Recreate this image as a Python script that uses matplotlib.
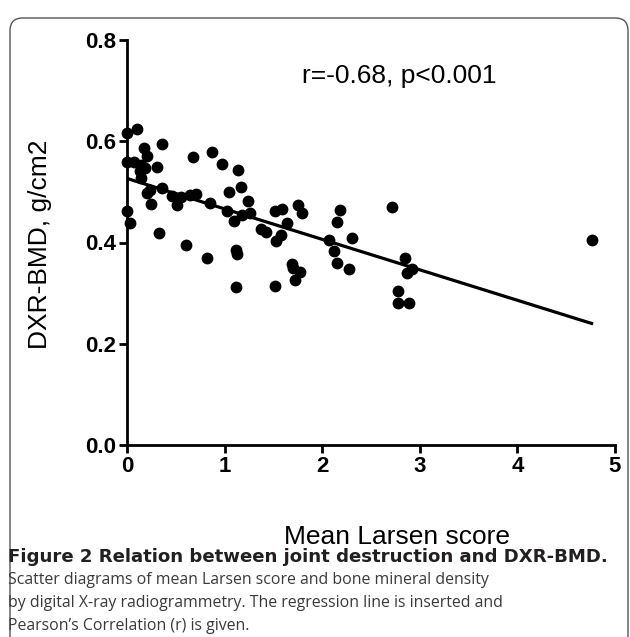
import numpy as np
import matplotlib
matplotlib.use("Agg")
import matplotlib.pyplot as plt
from matplotlib.patches import FancyBboxPatch

# mean Larsen score vs DXR-BMD
larsen = [0.00, 0.10, 0.17, 0.36, 0.21, 0.00, 0.07, 0.14, 0.18, 0.31,
          0.68, 0.87, 0.97, 0.14, 0.13, 0.21, 0.24, 0.36, 0.25, 0.46,
          0.51, 0.51, 0.55, 0.65, 0.71, 0.85, 1.04, 1.14, 1.17, 1.24,
          1.26, 1.18, 1.02, 0.00, 0.03, 0.33, 0.60, 0.82, 1.12, 1.13,
          1.12, 1.10, 1.37, 1.42, 1.52, 1.59, 1.75, 1.79, 1.64, 1.58,
          1.53, 1.52, 1.69, 1.70, 1.77, 1.72, 2.07, 2.18, 2.15, 2.12,
          2.15, 2.27, 2.31, 2.72, 2.85, 2.92, 2.87, 2.78, 2.78, 2.89,
          4.76]
bmd = [0.617, 0.625, 0.587, 0.594, 0.570, 0.559, 0.559, 0.553, 0.548, 0.550,
       0.568, 0.578, 0.556, 0.528, 0.541, 0.497, 0.503, 0.507, 0.476, 0.491,
       0.487, 0.474, 0.489, 0.494, 0.495, 0.478, 0.499, 0.543, 0.510, 0.482,
       0.459, 0.455, 0.462, 0.462, 0.438, 0.418, 0.395, 0.369, 0.385, 0.377,
       0.313, 0.443, 0.426, 0.420, 0.463, 0.466, 0.474, 0.459, 0.438, 0.415,
       0.402, 0.315, 0.357, 0.350, 0.341, 0.326, 0.405, 0.464, 0.440, 0.383,
       0.359, 0.348, 0.408, 0.471, 0.369, 0.347, 0.339, 0.304, 0.281, 0.281,
       0.405]

x_ticks = [0, 1, 2, 3, 4, 5]
y_ticks = [0.0, 0.2, 0.4, 0.6, 0.8]
y_tick_labels = ["0.0", "0.2", "0.4", "0.6", "0.8"]
stat_text = "r=-0.68, p<0.001"

caption_bold = "Figure 2 Relation between joint destruction and DXR-BMD."
caption_lines = [
    "Scatter diagrams of mean Larsen score and bone mineral density",
    "by digital X-ray radiogrammetry. The regression line is inserted and",
    "Pearson\u2019s Correlation (r) is given.",
]

plt.rcParams['font.family'] = ['Liberation Sans', 'DejaVu Sans']

fig = plt.figure(figsize=(6.30, 6.37), dpi=100)

# rounded frame around figure + caption
frame = FancyBboxPatch((10 / 630, -0.05), 618 / 630, 1 - 18 / 637 + 0.05,
                       boxstyle="round,pad=0,rounding_size=0.02",
                       transform=fig.transFigure, fill=False,
                       edgecolor="#555555", linewidth=1.0)
fig.patches.append(frame)

ax = fig.add_axes([127 / 630, 192 / 637, 488 / 630, 405 / 637])

x = np.array(larsen)
y = np.array(bmd)
slope, intercept = np.polyfit(x, y, 1)
xl = np.array([0, x.max()])
ax.plot(xl, intercept + slope * xl, color="black", linewidth=2.3, zorder=2)
ax.plot(x, y, "o", color="black", markersize=7.5, clip_on=False, zorder=3)

ax.set_xlim(0, 5)
ax.set_ylim(0, 0.8)
ax.set_xticks(x_ticks)
ax.set_yticks(y_ticks)
ax.set_yticklabels(y_tick_labels)
for s in ["top", "right"]:
    ax.spines[s].set_visible(False)
for s in ["left", "bottom"]:
    ax.spines[s].set_linewidth(2.0)
ax.tick_params(direction="out", length=6, width=2.0, labelsize=16, pad=2)
for lab in ax.get_xticklabels() + ax.get_yticklabels():
    lab.set_fontweight("bold")

ax.text(0.557, 0.91, stat_text, transform=ax.transAxes, ha="center",
        va="center", fontsize=19)

fig.text(397 / 630, 1 - 537 / 637, "Mean Larsen score", ha="center",
         va="center", fontsize=19)
fig.text(40 / 630, 1 - 244 / 637, "DXR-BMD, g/cm2", ha="center",
         va="center", fontsize=19, rotation=90)

cap_font = ['Open Sans', 'DejaVu Sans']
fig.text(8 / 630, 1 - 557 / 637, caption_bold, ha="left", va="center",
         fontsize=13.1, fontweight="bold", family=['DejaVu Sans'],
         color="#231f20")
for i, line in enumerate(caption_lines):
    fig.text(8 / 630, 1 - (580 + 23 * i) / 637, line, ha="left", va="center",
             fontsize=11.4, family=cap_font, color="#3a3a3a")

fig.savefig("out.png", dpi=100)
